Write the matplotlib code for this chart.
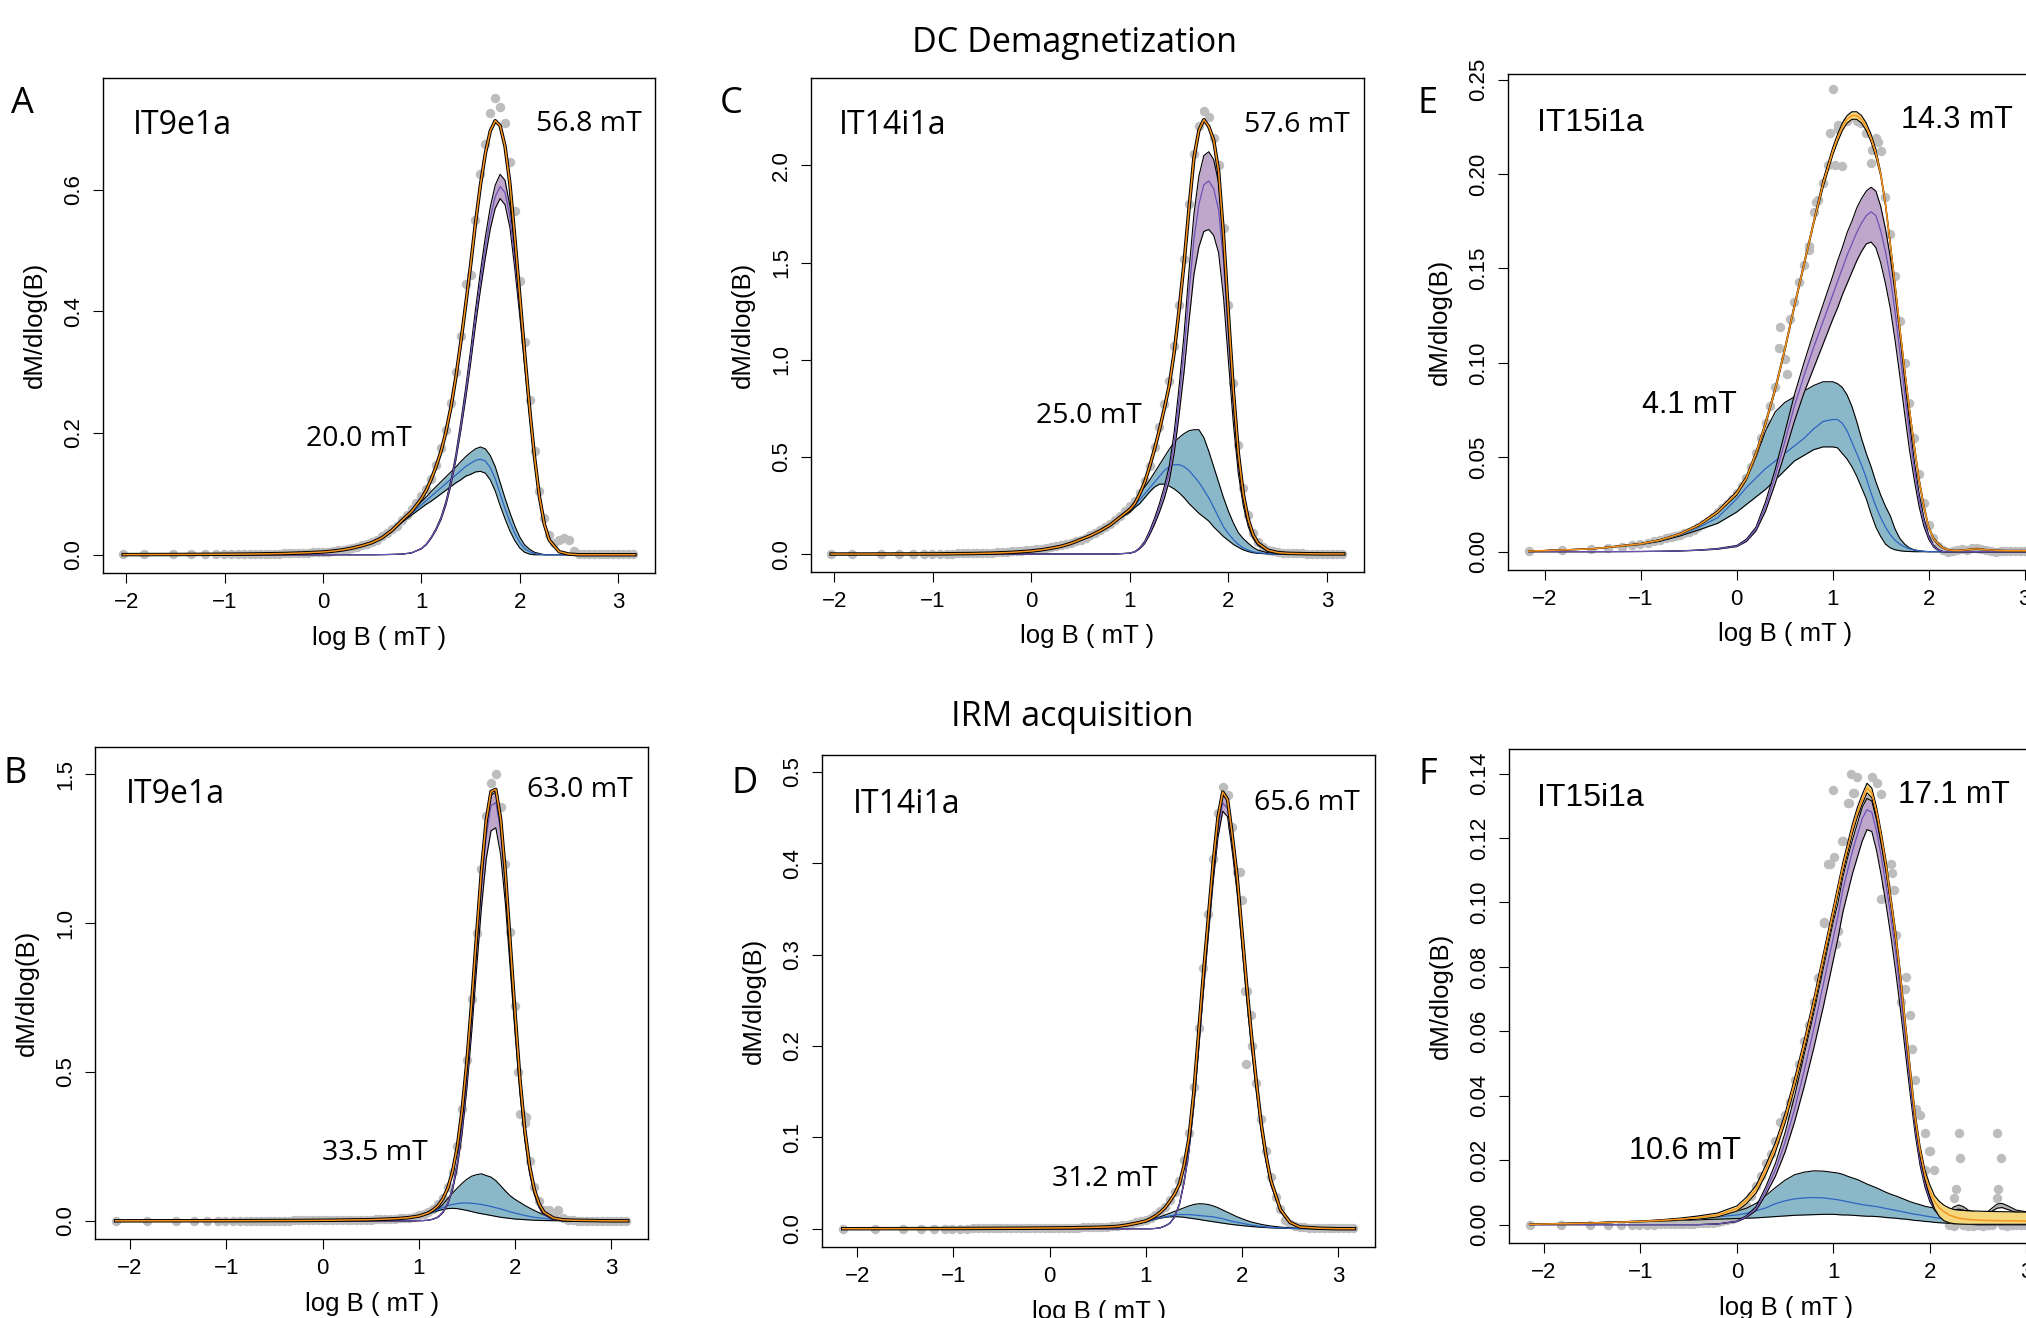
import matplotlib
matplotlib.use("Agg")
import matplotlib.pyplot as plt

plt.rcParams['font.family'] = ['Liberation Sans', 'DejaVu Sans']

# log10 field (mT) where the fitted curves are sampled; first value is set per panel
LOGB_GRID = [-1.5, -1.0, -0.8, -0.6, -0.4, -0.2, 0.0, 0.1, 0.2,
             0.3, 0.4, 0.5, 0.6, 0.7, 0.8, 0.9, 1.0, 1.05, 1.1,
             1.15, 1.2, 1.25, 1.3, 1.35, 1.4, 1.45, 1.5, 1.55, 1.6,
             1.65, 1.7, 1.75, 1.8, 1.85, 1.9, 1.95, 2.0, 2.05, 2.1,
             2.15, 2.2, 2.25, 2.3, 2.4, 2.5, 2.6, 2.8, 3.0, 3.17]

# log10 field of the measured points (after the first one)
DOT_LOGB = [-1.82, -1.52, -1.34, -1.2, -1.09, -1.01, -0.93, -0.86, -0.8, -0.74, -0.69, -0.64, -0.59, -0.55,
            -0.5, -0.45, -0.4, -0.35, -0.3, -0.25, -0.2, -0.15, -0.1, -0.05,
            0.0, 0.05, 0.1, 0.15, 0.2, 0.25, 0.3, 0.35, 0.4, 0.45,
            0.5, 0.55, 0.6, 0.65, 0.7, 0.75, 0.8, 0.85, 0.9, 0.95,
            1.0, 1.05, 1.1, 1.15, 1.2, 1.25, 1.3, 1.35, 1.4, 1.45,
            1.5, 1.55, 1.6, 1.65, 1.7, 1.75, 1.8, 1.85, 1.9, 1.95,
            2.0, 2.05, 2.1, 2.15, 2.2, 2.25, 2.3, 2.35, 2.4, 2.45,
            2.5, 2.55, 2.6, 2.65, 2.7, 2.75, 2.8, 2.85, 2.9, 2.95,
            3.0, 3.05, 3.1, 3.15]

# ---------------- A : DC demagnetization, IT9e1a ----------------
A_x0 = -2.03
A_total = [0.0002, 0.0004, 0.0008, 0.001, 0.0015, 0.002, 0.003, 0.0045, 0.006, 0.008,
           0.011, 0.015, 0.02, 0.028, 0.04, 0.056, 0.071, 0.092, 0.106, 0.124,
           0.145, 0.17, 0.202, 0.242, 0.291, 0.348, 0.41, 0.475, 0.545, 0.607,
           0.659, 0.696, 0.713, 0.705, 0.671, 0.609, 0.52, 0.425, 0.33, 0.24,
           0.16, 0.095, 0.05, 0.024, 0.005, 0.001, 0.0, 0.0, 0.0, 0.0]
A_blue = [0.0002, 0.0004, 0.0008, 0.001, 0.0015, 0.002, 0.003, 0.0045, 0.006, 0.008,
          0.011, 0.015, 0.02, 0.028, 0.0395, 0.055, 0.068, 0.082, 0.089, 0.096,
          0.103, 0.11, 0.117, 0.124, 0.131, 0.138, 0.145, 0.15, 0.155, 0.157,
          0.154, 0.143, 0.125, 0.10, 0.076, 0.054, 0.035, 0.02, 0.01, 0.005,
          0.002, 0.001, 0.0, 0.0, 0.0, 0.0, 0.0, 0.0, 0.0, 0.0]
A_blue_lo = [0.0002, 0.0004, 0.0008, 0.001, 0.0015, 0.002, 0.003, 0.0045, 0.006, 0.008,
             0.011, 0.015, 0.0195, 0.027, 0.038, 0.053, 0.065, 0.077, 0.083, 0.088,
             0.094, 0.10, 0.106, 0.112, 0.118, 0.123, 0.129, 0.132, 0.136, 0.137,
             0.134, 0.123, 0.105, 0.081, 0.059, 0.039, 0.023, 0.011, 0.004, 0.001,
             0.0, 0.0, 0.0, 0.0, 0.0, 0.0, 0.0, 0.0, 0.0, 0.0]
A_blue_hi = [0.0002, 0.0004, 0.0008, 0.001, 0.0015, 0.002, 0.003, 0.0045, 0.006, 0.008,
             0.011, 0.015, 0.0205, 0.029, 0.041, 0.057, 0.071, 0.087, 0.095, 0.104,
             0.112, 0.12, 0.128, 0.136, 0.144, 0.153, 0.161, 0.168, 0.174, 0.177,
             0.174, 0.163, 0.145, 0.119, 0.093, 0.069, 0.047, 0.029, 0.016, 0.009,
             0.004, 0.002, 0.0, 0.0, 0.0, 0.0, 0.0, 0.0, 0.0, 0.0]
A_purple = [0, 0, 0, 0, 0, 0, 0, 0, 0, 0,
            0, 0, 0, 0.0002, 0.0005, 0.001, 0.003, 0.01, 0.017, 0.028,
            0.042, 0.06, 0.085, 0.118, 0.16, 0.21, 0.265, 0.325, 0.39, 0.45,
            0.505, 0.553, 0.588, 0.605, 0.595, 0.555, 0.485, 0.405, 0.32, 0.235,
            0.158, 0.094, 0.05, 0.024, 0.005, 0.001, 0, 0, 0, 0]
A_purple_lo = [0, 0, 0, 0, 0, 0, 0, 0, 0, 0,
               0, 0, 0, 0.0002, 0.0005, 0.001, 0.0029, 0.0097, 0.0164, 0.027,
               0.0406, 0.058, 0.082, 0.114, 0.155, 0.203, 0.256, 0.314, 0.377, 0.435,
               0.488, 0.535, 0.569, 0.585, 0.575, 0.537, 0.469, 0.392, 0.309, 0.227,
               0.153, 0.091, 0.048, 0.023, 0.0048, 0.001, 0, 0, 0, 0]
A_purple_hi = [0, 0, 0, 0, 0, 0, 0, 0, 0, 0,
               0, 0, 0, 0.0002, 0.0005, 0.001, 0.0031, 0.0103, 0.0176, 0.029,
               0.0434, 0.062, 0.088, 0.122, 0.165, 0.217, 0.274, 0.336, 0.403, 0.465,
               0.522, 0.571, 0.607, 0.625, 0.615, 0.573, 0.501, 0.418, 0.331, 0.243,
               0.163, 0.097, 0.052, 0.025, 0.0052, 0.001, 0, 0, 0, 0]
A_dots = [0.001, 0.001, 0.001, 0.001, 0.001, 0.001, 0.001, 0.001, 0.0012, 0.0013, 0.0014, 0.0015, 0.0016, 0.0017, 0.0018,
          0.002, 0.002, 0.0022, 0.0024, 0.0026, 0.0028, 0.003, 0.0034, 0.0038, 0.0042,
          0.0047, 0.0053, 0.006, 0.007, 0.0085, 0.01, 0.0115, 0.013, 0.0155, 0.018,
          0.021, 0.025, 0.03, 0.035, 0.042, 0.048, 0.057, 0.065, 0.075, 0.085,
          0.097, 0.108, 0.125, 0.148, 0.175, 0.205, 0.25, 0.30, 0.36, 0.445,
          0.46, 0.55, 0.625, 0.675, 0.725, 0.75, 0.735, 0.71, 0.645, 0.565,
          0.45, 0.35, 0.255, 0.17, 0.105, 0.06, 0.032, 0.02, 0.025, 0.028,
          0.024, 0.006, 0.002, 0.001, 0.001, 0.001, 0.001, 0.001, 0.001, 0.001,
          0.001, 0.001, 0.001, 0.001]

# ---------------- C : DC demagnetization, IT14i1a ----------------
C_x0 = -2.03
C_total = [0.0003, 0.0005, 0.001, 0.002, 0.003, 0.005, 0.009, 0.016, 0.022, 0.03,
           0.04, 0.055, 0.075, 0.095, 0.12, 0.15, 0.19, 0.23, 0.26, 0.31,
           0.37, 0.45, 0.54, 0.64, 0.75, 0.87, 1.04, 1.26, 1.5, 1.78,
           2.04, 2.18, 2.235, 2.2, 2.13, 1.97, 1.64, 1.23, 0.84, 0.52,
           0.31, 0.18, 0.1, 0.057, 0.02, 0.008, 0.004, 0.002, 0.001, 0.001]
C_blue = [0.0003, 0.0005, 0.001, 0.002, 0.003, 0.005, 0.009, 0.016, 0.022, 0.03,
          0.04, 0.055, 0.075, 0.095, 0.12, 0.15, 0.188, 0.225, 0.25, 0.28,
          0.31, 0.34, 0.37, 0.40, 0.43, 0.45, 0.46, 0.46, 0.45, 0.43,
          0.40, 0.37, 0.33, 0.29, 0.24, 0.19, 0.14, 0.105, 0.075, 0.05,
          0.032, 0.02, 0.012, 0.007, 0.002, 0.0, 0.0, 0.0, 0.0, 0.0]
C_blue_lo = [0.0003, 0.0005, 0.001, 0.002, 0.003, 0.005, 0.009, 0.016, 0.022, 0.03,
             0.04, 0.055, 0.075, 0.094, 0.118, 0.147, 0.185, 0.215, 0.24, 0.26,
             0.29, 0.32, 0.345, 0.36, 0.36, 0.35, 0.335, 0.315, 0.29, 0.26,
             0.235, 0.21, 0.19, 0.17, 0.14, 0.115, 0.09, 0.07, 0.05, 0.035,
             0.022, 0.013, 0.007, 0.004, 0.001, 0.0, 0.0, 0.0, 0.0, 0.0]
C_blue_hi = [0.0003, 0.0005, 0.001, 0.002, 0.003, 0.005, 0.009, 0.016, 0.022, 0.03,
             0.04, 0.055, 0.075, 0.096, 0.122, 0.153, 0.195, 0.235, 0.27, 0.31,
             0.345, 0.38, 0.42, 0.46, 0.50, 0.54, 0.575, 0.60, 0.62, 0.635,
             0.64, 0.64, 0.6, 0.53, 0.45, 0.37, 0.29, 0.22, 0.16, 0.11,
             0.08, 0.056, 0.035, 0.02, 0.007, 0.002, 0.0, 0.0, 0.0, 0.0]
C_purple = [0, 0, 0, 0, 0, 0, 0, 0, 0, 0,
            0, 0, 0, 0, 0, 0, 0.002, 0.005, 0.012, 0.03,
            0.06, 0.11, 0.17, 0.24, 0.32, 0.42, 0.58, 0.8, 1.05, 1.35,
            1.62, 1.8, 1.9, 1.92, 1.88, 1.77, 1.5, 1.12, 0.76, 0.47,
            0.28, 0.16, 0.09, 0.05, 0.016, 0.005, 0.002, 0, 0, 0]
C_purple_lo = [0, 0, 0, 0, 0, 0, 0, 0, 0, 0,
               0, 0, 0, 0, 0, 0, 0.0018, 0.0045, 0.011, 0.027,
               0.054, 0.099, 0.153, 0.216, 0.288, 0.378, 0.52, 0.72, 0.94, 1.2,
               1.44, 1.58, 1.66, 1.67, 1.64, 1.55, 1.32, 0.99, 0.67, 0.415,
               0.25, 0.142, 0.08, 0.045, 0.014, 0.0045, 0.0018, 0, 0, 0]
C_purple_hi = [0, 0, 0, 0, 0, 0, 0, 0, 0, 0,
               0, 0, 0, 0, 0, 0, 0.0022, 0.0055, 0.013, 0.033,
               0.066, 0.12, 0.185, 0.26, 0.35, 0.455, 0.63, 0.865, 1.135, 1.46,
               1.75, 1.945, 2.05, 2.07, 2.03, 1.91, 1.62, 1.21, 0.82, 0.51,
               0.3, 0.173, 0.097, 0.054, 0.017, 0.0054, 0.0022, 0, 0, 0]
C_dots = [0.001, 0.001, 0.001, 0.0015, 0.0018, 0.002, 0.002, 0.0025, 0.0028, 0.003, 0.0033, 0.0036, 0.004, 0.0045, 0.005,
          0.006, 0.007, 0.008, 0.009, 0.01, 0.012, 0.014, 0.016, 0.018, 0.02,
          0.022, 0.025, 0.028, 0.032, 0.036, 0.041, 0.046, 0.052, 0.058, 0.066,
          0.075, 0.085, 0.097, 0.108, 0.122, 0.137, 0.155, 0.175, 0.198, 0.22,
          0.245, 0.275, 0.315, 0.375, 0.455, 0.55, 0.655, 0.77, 0.89, 1.07,
          1.28, 1.52, 1.8, 2.06, 2.2, 2.28, 2.25, 2.14, 2.0, 1.68,
          1.28, 0.88, 0.56, 0.34, 0.2, 0.11, 0.06, 0.035, 0.022, 0.015,
          0.01, 0.008, 0.006, 0.005, 0.004, 0.004, 0.003, 0.003, 0.003, 0.003,
          0.003, 0.003, 0.003, 0.003]

# ---------------- E : DC demagnetization, IT15i1a ----------------
E_x0 = -2.17
E_total = [0.0003, 0.0015, 0.0042, 0.0062, 0.0093, 0.014, 0.021, 0.031, 0.039, 0.052,
           0.068, 0.086, 0.107, 0.13, 0.152, 0.174, 0.195, 0.212, 0.219, 0.225,
           0.229, 0.231, 0.231, 0.229, 0.225, 0.219, 0.211, 0.2, 0.184, 0.163,
           0.141, 0.118, 0.096, 0.075, 0.056, 0.038, 0.024, 0.013, 0.007, 0.004,
           0.002, 0.001, 0.0007, 0.0006, 0.001, 0.0015, 0.001, 0.0005, 0.0005, 0.0005]
E_total_lo = [0.0003, 0.0014, 0.004, 0.006, 0.009, 0.0135, 0.0203, 0.030, 0.038, 0.051,
              0.067, 0.085, 0.106, 0.129, 0.151, 0.173, 0.193, 0.21, 0.217, 0.223,
              0.227, 0.229, 0.229, 0.227, 0.223, 0.217, 0.209, 0.199, 0.183, 0.162,
              0.14, 0.117, 0.095, 0.074, 0.055, 0.037, 0.023, 0.0125, 0.0065, 0.0035,
              0.0017, 0.0008, 0.0005, 0.0004, 0.0008, 0.0012, 0.0008, 0.0003, 0.0003, 0.0003]
E_total_hi = [0.0003, 0.0016, 0.0044, 0.0064, 0.0096, 0.0145, 0.0217, 0.032, 0.040, 0.053,
              0.069, 0.087, 0.108, 0.131, 0.153, 0.175, 0.197, 0.214, 0.221, 0.227,
              0.231, 0.233, 0.233, 0.231, 0.227, 0.221, 0.213, 0.201, 0.185, 0.164,
              0.142, 0.119, 0.097, 0.076, 0.057, 0.039, 0.025, 0.0135, 0.0075, 0.0045,
              0.0023, 0.0012, 0.0009, 0.0008, 0.0012, 0.0018, 0.0012, 0.0007, 0.0007, 0.0007]
E_blue = [0.0003, 0.0015, 0.0041, 0.006, 0.0088, 0.0128, 0.018, 0.028, 0.034, 0.039,
          0.044, 0.048, 0.052, 0.056, 0.06, 0.065, 0.069, 0.07, 0.07, 0.068,
          0.064, 0.058, 0.052, 0.046, 0.039, 0.031, 0.024, 0.018, 0.013, 0.009,
          0.006, 0.004, 0.0025, 0.0015, 0.0008, 0.0004, 0.0002, 0.0, 0.0, 0.0,
          0, 0, 0, 0, 0, 0, 0, 0, 0, 0]
E_blue_lo = [0.0003, 0.0014, 0.0038, 0.0055, 0.0082, 0.0115, 0.015, 0.021, 0.025, 0.029,
             0.033, 0.038, 0.043, 0.048, 0.051, 0.054, 0.0555, 0.0555, 0.055, 0.052,
             0.049, 0.045, 0.04, 0.034, 0.028, 0.02, 0.013, 0.008, 0.004, 0.002,
             0.001, 0.0005, 0.0002, 0.0001, 0, 0, 0, 0, 0, 0,
             0, 0, 0, 0, 0, 0, 0, 0, 0, 0]
E_blue_hi = [0.0003, 0.0016, 0.0043, 0.0064, 0.0093, 0.0138, 0.0205, 0.03, 0.038, 0.05,
             0.064, 0.074, 0.079, 0.082, 0.085, 0.088, 0.09, 0.09, 0.089, 0.087,
             0.083, 0.077, 0.069, 0.06, 0.052, 0.045, 0.037, 0.03, 0.024, 0.019,
             0.012, 0.007, 0.004, 0.002, 0.001, 0.0005, 0.0002, 0, 0, 0,
             0, 0, 0, 0, 0, 0, 0, 0, 0, 0]
E_purple = [0, 0, 0.0001, 0.0002, 0.0004, 0.0008, 0.0015, 0.003, 0.006, 0.012,
            0.024, 0.04, 0.058, 0.077, 0.093, 0.108, 0.122, 0.136, 0.143, 0.15,
            0.157, 0.163, 0.169, 0.174, 0.178, 0.18, 0.178, 0.17, 0.159, 0.145,
            0.127, 0.106, 0.084, 0.063, 0.044, 0.028, 0.016, 0.008, 0.003, 0.001,
            0, 0, 0, 0, 0, 0, 0, 0, 0, 0]
E_purple_lo = [0, 0, 0.0001, 0.0002, 0.0004, 0.0007, 0.0013, 0.0027, 0.0054, 0.011,
               0.0215, 0.036, 0.052, 0.069, 0.084, 0.097, 0.11, 0.123, 0.129, 0.136,
               0.142, 0.148, 0.154, 0.159, 0.163, 0.164, 0.161, 0.153, 0.142, 0.129,
               0.112, 0.093, 0.073, 0.054, 0.038, 0.024, 0.0135, 0.0067, 0.0025, 0.0008,
               0, 0, 0, 0, 0, 0, 0, 0, 0, 0]
E_purple_hi = [0, 0, 0.0001, 0.0002, 0.0004, 0.0009, 0.0017, 0.0033, 0.0066, 0.013,
               0.0265, 0.0435, 0.063, 0.083, 0.1, 0.116, 0.131, 0.146, 0.154, 0.161,
               0.169, 0.175, 0.182, 0.187, 0.191, 0.193, 0.191, 0.183, 0.171, 0.156,
               0.137, 0.115, 0.091, 0.069, 0.048, 0.031, 0.018, 0.009, 0.0035, 0.0012,
               0, 0, 0, 0, 0, 0, 0, 0, 0, 0]
E_dots = [0.0003, 0.0008, 0.0015, 0.002, 0.0026, 0.0033, 0.004, 0.0048, 0.0055, 0.0062, 0.007, 0.0077, 0.0085, 0.009, 0.0097,
          0.0105, 0.0115, 0.013, 0.0145, 0.016, 0.0185, 0.021, 0.023, 0.025, 0.028,
          0.031, 0.035, 0.039, 0.045, 0.052, 0.06, 0.068, 0.077, 0.087, 0.119,
          0.102, 0.123, 0.132, 0.143, 0.152, 0.162, 0.18, 0.186, 0.195, 0.205,
          0.245, 0.224, 0.204, 0.228, 0.231, 0.228, 0.227, 0.222, 0.206, 0.219,
          0.212, 0.188, 0.168, 0.146, 0.122, 0.1, 0.079, 0.06, 0.041, 0.026,
          0.014, 0.007, 0.003, 0.001, 0.0, 0.0005, 0.001, 0.0015, 0.001, 0.002,
          0.002, 0.0015, 0.001, 0.0005, 0.0, 0.0005, 0.0005, 0.0005, 0.0005, 0.0005,
          0.0005, 0.0005, 0.0005, 0.0005]
E_extra_x = [0.44, 0.52, 0.97, 1.02, 1.06, 1.41, 1.47, 0.83, 0.75]
E_extra_y = [0.108, 0.094, 0.222, 0.205, 0.226, 0.213, 0.217, 0.185, 0.16]

# ---------------- B : IRM acquisition, IT9e1a ----------------
B_x0 = -2.15
B_total = [0.0, 0.0003, 0.0005, 0.0006, 0.0008, 0.001, 0.0013, 0.0018, 0.002, 0.0025,
           0.003, 0.0035, 0.004, 0.005, 0.0065, 0.008, 0.011, 0.016, 0.021, 0.027,
           0.037, 0.051, 0.074, 0.109, 0.164, 0.249, 0.372, 0.536, 0.737, 0.958,
           1.172, 1.344, 1.442, 1.449, 1.35, 1.165, 0.93, 0.696, 0.478, 0.308,
           0.186, 0.105, 0.057, 0.029, 0.009, 0.0035, 0.002, 0.001, 0.0, 0.0]
B_blue = [0.0, 0.0003, 0.0005, 0.0006, 0.0008, 0.001, 0.0013, 0.0018, 0.002, 0.0025,
          0.003, 0.0035, 0.004, 0.005, 0.0065, 0.008, 0.011, 0.016, 0.02, 0.025,
          0.031, 0.038, 0.045, 0.051, 0.055, 0.058, 0.06, 0.06, 0.059, 0.057,
          0.055, 0.052, 0.048, 0.044, 0.04, 0.035, 0.03, 0.026, 0.022, 0.018,
          0.015, 0.012, 0.01, 0.008, 0.005, 0.003, 0.002, 0.001, 0.0, 0.0]
B_blue_lo = [0.0, 0.0003, 0.0005, 0.0006, 0.0008, 0.001, 0.0013, 0.0018, 0.002, 0.0025,
             0.003, 0.0035, 0.004, 0.005, 0.0062, 0.007, 0.01, 0.015, 0.019, 0.024,
             0.029, 0.034, 0.038, 0.041, 0.042, 0.041, 0.038, 0.035, 0.031, 0.027,
             0.024, 0.021, 0.018, 0.015, 0.012, 0.01, 0.008, 0.006, 0.005, 0.004,
             0.003, 0.002, 0.0015, 0.001, 0.0005, 0.0, 0.0, 0.0, 0.0, 0.0]
B_blue_hi = [0.0, 0.0003, 0.0005, 0.0006, 0.0008, 0.001, 0.0013, 0.0018, 0.002, 0.0025,
             0.003, 0.0035, 0.004, 0.005, 0.0068, 0.009, 0.012, 0.017, 0.021, 0.026,
             0.032, 0.04, 0.055, 0.075, 0.093, 0.11, 0.126, 0.14, 0.15, 0.155,
             0.158, 0.152, 0.147, 0.135, 0.118, 0.10, 0.084, 0.072, 0.062, 0.052,
             0.043, 0.035, 0.027, 0.02, 0.009, 0.004, 0.002, 0.001, 0.0, 0.0]
B_purple = [0, 0, 0, 0, 0, 0, 0, 0, 0, 0,
            0, 0, 0, 0, 0, 0, 0, 0.0005, 0.001, 0.002,
            0.006, 0.013, 0.029, 0.058, 0.109, 0.191, 0.312, 0.476, 0.678, 0.901,
            1.117, 1.292, 1.394, 1.405, 1.31, 1.13, 0.90, 0.67, 0.456, 0.29,
            0.171, 0.093, 0.047, 0.021, 0.004, 0.0005, 0, 0, 0, 0]
B_purple_lo = [0, 0, 0, 0, 0, 0, 0, 0, 0, 0,
               0, 0, 0, 0, 0, 0, 0, 0.0005, 0.001, 0.0019,
               0.0056, 0.012, 0.027, 0.055, 0.102, 0.18, 0.293, 0.447, 0.637, 0.847,
               1.05, 1.215, 1.31, 1.32, 1.23, 1.062, 0.846, 0.63, 0.429, 0.273,
               0.161, 0.087, 0.044, 0.02, 0.0038, 0.0005, 0, 0, 0, 0]
B_purple_hi = [0, 0, 0, 0, 0, 0, 0, 0, 0, 0,
               0, 0, 0, 0, 0, 0, 0, 0.0005, 0.001, 0.0021,
               0.0062, 0.0133, 0.0297, 0.059, 0.112, 0.196, 0.32, 0.488, 0.695, 0.924,
               1.145, 1.324, 1.429, 1.44, 1.343, 1.158, 0.923, 0.687, 0.467, 0.297,
               0.175, 0.095, 0.048, 0.0215, 0.0041, 0.0005, 0, 0, 0, 0]
B_dots = [0.0, 0.0, 0.0003, 0.0003, 0.0004, 0.0004, 0.0005, 0.0005, 0.0006, 0.0006, 0.0007, 0.0007, 0.0008, 0.0008, 0.0009,
          0.001, 0.001, 0.001, 0.0011, 0.0012, 0.0013, 0.0013, 0.0014, 0.0016, 0.0017,
          0.0018, 0.0019, 0.002, 0.0023, 0.0025, 0.0028, 0.003, 0.0033, 0.0035, 0.0038,
          0.004, 0.0045, 0.005, 0.0057, 0.0065, 0.0072, 0.008, 0.009, 0.011, 0.013,
          0.018, 0.024, 0.03, 0.04, 0.055, 0.078, 0.112, 0.165, 0.25, 0.375,
          0.54, 0.745, 0.965, 1.18, 1.36, 1.47, 1.5, 1.39, 1.2, 0.97,
          0.72, 0.36, 0.33, 0.2, 0.115, 0.065, 0.035, 0.035, 0.02, 0.035,
          0.008, 0.003, 0.002, 0.001, 0.001, 0.001, 0.001, 0.001, 0.001, 0.001,
          0.001, 0.001, 0.001, 0.001]
B_extra_x = [2.07, 2.11, 2.03]
B_extra_y = [0.36, 0.35, 0.5]

# ---------------- D : IRM acquisition, IT14i1a ----------------
D_x0 = -2.15
D_total = [0.0, 0.0001, 0.0002, 0.0003, 0.0004, 0.0005, 0.0006, 0.0008, 0.0009, 0.001,
           0.0012, 0.0014, 0.0016, 0.002, 0.0025, 0.004, 0.006, 0.0085, 0.011, 0.014,
           0.018, 0.023, 0.03, 0.038, 0.049, 0.07, 0.10, 0.15, 0.215, 0.28,
           0.34, 0.40, 0.45, 0.478, 0.47, 0.43, 0.385, 0.325, 0.265, 0.21,
           0.16, 0.115, 0.08, 0.053, 0.021, 0.007, 0.002, 0.0005, 0.0, 0.0]
D_blue = [0.0, 0.0001, 0.0002, 0.0003, 0.0004, 0.0005, 0.0006, 0.0008, 0.0009, 0.001,
          0.0012, 0.0014, 0.0016, 0.002, 0.003, 0.004, 0.006, 0.008, 0.009, 0.011,
          0.012, 0.013, 0.014, 0.015, 0.0155, 0.0155, 0.0155, 0.015, 0.0145, 0.014,
          0.0135, 0.013, 0.012, 0.011, 0.0095, 0.008, 0.007, 0.006, 0.005, 0.004,
          0.0033, 0.0026, 0.002, 0.0015, 0.001, 0.0005, 0.0002, 0.0, 0.0, 0.0]
D_blue_lo = [0.0, 0.0001, 0.0002, 0.0003, 0.0004, 0.0005, 0.0006, 0.0008, 0.0009, 0.001,
             0.0012, 0.0014, 0.0016, 0.002, 0.0029, 0.0038, 0.0055, 0.0075, 0.009, 0.0105,
             0.0115, 0.0125, 0.013, 0.0132, 0.013, 0.0125, 0.0117, 0.011, 0.0102, 0.0093,
             0.0085, 0.0077, 0.0069, 0.0061, 0.0053, 0.0046, 0.004, 0.0034, 0.0029, 0.0024,
             0.002, 0.0016, 0.0013, 0.001, 0.0006, 0.0003, 0.0001, 0, 0, 0]
D_blue_hi = [0.0, 0.0001, 0.0002, 0.0003, 0.0004, 0.0005, 0.0006, 0.0008, 0.0009, 0.001,
             0.0012, 0.0014, 0.0016, 0.002, 0.0031, 0.004, 0.006, 0.0085, 0.01, 0.0115,
             0.013, 0.015, 0.017, 0.019, 0.021, 0.023, 0.025, 0.0265, 0.0274, 0.0272,
             0.0265, 0.025, 0.023, 0.0205, 0.018, 0.0155, 0.013, 0.011, 0.009, 0.0073,
             0.006, 0.0048, 0.0038, 0.003, 0.0018, 0.001, 0.0005, 0.0001, 0, 0]
D_purple = [0, 0, 0, 0, 0, 0, 0, 0, 0, 0,
            0, 0, 0, 0, 0, 0, 0, 0, 0, 0.0003,
            0.001, 0.003, 0.006, 0.013, 0.027, 0.052, 0.087, 0.137, 0.2, 0.265,
            0.327, 0.387, 0.437, 0.466, 0.46, 0.42, 0.374, 0.315, 0.255, 0.201,
            0.153, 0.109, 0.075, 0.049, 0.019, 0.006, 0.0015, 0, 0, 0]
D_purple_lo = [0, 0, 0, 0, 0, 0, 0, 0, 0, 0,
               0, 0, 0, 0, 0, 0, 0, 0, 0, 0.0003,
               0.001, 0.0029, 0.0059, 0.0127, 0.0265, 0.051, 0.085, 0.134, 0.196, 0.26,
               0.32, 0.379, 0.428, 0.457, 0.451, 0.412, 0.367, 0.309, 0.25, 0.197,
               0.15, 0.107, 0.0735, 0.048, 0.0186, 0.0059, 0.0015, 0, 0, 0]
D_purple_hi = [0, 0, 0, 0, 0, 0, 0, 0, 0, 0,
               0, 0, 0, 0, 0, 0, 0, 0, 0, 0.0003,
               0.001, 0.0031, 0.0061, 0.0133, 0.0275, 0.053, 0.089, 0.14, 0.204, 0.27,
               0.334, 0.395, 0.446, 0.475, 0.469, 0.428, 0.381, 0.321, 0.26, 0.205,
               0.156, 0.111, 0.0765, 0.05, 0.0194, 0.0061, 0.0015, 0, 0, 0]
D_dots = [0.0, 0.0, 0.0, 0.0001, 0.0001, 0.0001, 0.0002, 0.0002, 0.0002, 0.0003, 0.0003, 0.0003, 0.0004, 0.0004, 0.0004,
          0.0005, 0.0005, 0.0005, 0.0006, 0.0006, 0.0006, 0.0007, 0.0007, 0.0008, 0.0008,
          0.0009, 0.0009, 0.001, 0.001, 0.0011, 0.0012, 0.0013, 0.0014, 0.0015, 0.0016,
          0.0018, 0.002, 0.0023, 0.0027, 0.0032, 0.0038, 0.0045, 0.0055, 0.007, 0.0085,
          0.0095, 0.012, 0.015, 0.019, 0.024, 0.031, 0.04, 0.052, 0.075, 0.105,
          0.155, 0.22, 0.285, 0.345, 0.405, 0.455, 0.483, 0.475, 0.44, 0.39,
          0.36, 0.26, 0.20, 0.16, 0.12, 0.085, 0.057, 0.035, 0.022, 0.01,
          0.005, 0.003, 0.002, 0.0015, 0.001, 0.001, 0.001, 0.001, 0.001, 0.001,
          0.001, 0.001, 0.001, 0.001]
D_extra_x = [1.98, 2.03, 2.04, 2.09]
D_extra_y = [0.39, 0.26, 0.18, 0.234]

# ---------------- F : IRM acquisition, IT15i1a ----------------
F_x0 = -2.15
F_total = [0.0001, 0.0005, 0.001, 0.0013, 0.0017, 0.0022, 0.003, 0.005, 0.0075, 0.011,
           0.017, 0.024, 0.033, 0.044, 0.056, 0.069, 0.083, 0.097, 0.104, 0.111,
           0.117, 0.123, 0.128, 0.132, 0.1355, 0.134, 0.128, 0.12, 0.111, 0.10,
           0.089, 0.076, 0.061, 0.047, 0.033, 0.023, 0.0155, 0.0105, 0.0072, 0.0052,
           0.004, 0.003, 0.0025, 0.002, 0.0016, 0.0014, 0.0013, 0.0012, 0.0011, 0.0011]
F_total_lo = [0.0, 0.0004, 0.0009, 0.0011, 0.0014, 0.0017, 0.0024, 0.0042, 0.0065, 0.0098,
              0.0155, 0.0225, 0.0315, 0.0425, 0.0545, 0.0675, 0.0815, 0.0955, 0.1025, 0.1095,
              0.1155, 0.1215, 0.1265, 0.1305, 0.134, 0.1325, 0.1265, 0.1185, 0.1095, 0.0985,
              0.0875, 0.0745, 0.0595, 0.0455, 0.0315, 0.0215, 0.014, 0.009, 0.005, 0.0025,
              0.0012, 0.0006, 0.0003, 0.0002, 0.0001, 0.0001, 0.0001, 0.0001, 0.0001, 0.0001]
F_total_hi = [0.0002, 0.0006, 0.0011, 0.0015, 0.002, 0.0027, 0.0036, 0.0058, 0.0085, 0.0122,
              0.0185, 0.0255, 0.0345, 0.0455, 0.0575, 0.0705, 0.0845, 0.0985, 0.1055, 0.1125,
              0.1185, 0.1245, 0.1295, 0.1335, 0.137, 0.1355, 0.1295, 0.1215, 0.1125, 0.1015,
              0.0905, 0.0775, 0.0625, 0.0485, 0.0345, 0.0245, 0.017, 0.0125, 0.009, 0.0072,
              0.006, 0.0052, 0.0047, 0.0045, 0.0043, 0.0042, 0.0041, 0.004, 0.0039, 0.0038]
F_blue = [0.0001, 0.0005, 0.001, 0.0012, 0.0015, 0.0019, 0.0024, 0.003, 0.0035, 0.0043,
          0.0052, 0.0065, 0.0074, 0.008, 0.0083, 0.0084, 0.0083, 0.0079, 0.0077, 0.0074,
          0.0071, 0.0068, 0.0065, 0.0062, 0.006, 0.0058, 0.0056, 0.0053, 0.005, 0.0047,
          0.0044, 0.0041, 0.0038, 0.0035, 0.0032, 0.003, 0.0027, 0.0025, 0.0022, 0.002,
          0.0018, 0.0016, 0.0014, 0.0012, 0.001, 0.0008, 0.0007, 0.0005, 0.0004, 0.0003]
F_blue_lo = [0.0001, 0.0005, 0.0009, 0.0011, 0.0013, 0.0015, 0.0017, 0.0019, 0.002, 0.0021,
             0.0023, 0.0025, 0.0027, 0.0029, 0.003, 0.0031, 0.0032, 0.0032, 0.0031, 0.003,
             0.003, 0.0029, 0.0028, 0.0027, 0.0026, 0.0026, 0.0025, 0.0024, 0.0022, 0.0021,
             0.002, 0.0018, 0.0017, 0.0015, 0.0013, 0.0012, 0.001, 0.0009, 0.0007, 0.0006,
             0.0005, 0.0004, 0.0003, 0.0003, 0.0002, 0.0001, 0.0001, 0.0001, 0.0001, 0.0001]
F_blue_hi = [0.0001, 0.0006, 0.0011, 0.0014, 0.0018, 0.0023, 0.003, 0.0042, 0.0051, 0.0066,
             0.009, 0.0115, 0.0138, 0.0155, 0.0163, 0.0167, 0.0166, 0.0162, 0.016, 0.0156,
             0.015, 0.0145, 0.014, 0.0133, 0.0126, 0.012, 0.0114, 0.0107, 0.01, 0.0094,
             0.0089, 0.0083, 0.0077, 0.0071, 0.0066, 0.0062, 0.0057, 0.0054, 0.0051, 0.0048,
             0.0045, 0.0042, 0.004, 0.0038, 0.0034, 0.003, 0.0027, 0.0022, 0.0018, 0.0015]
F_purple = [0, 0, 0, 0, 0, 0, 0.0002, 0.001, 0.0025, 0.005,
            0.0105, 0.017, 0.0255, 0.036, 0.048, 0.061, 0.075, 0.089, 0.096, 0.104,
            0.11, 0.116, 0.121, 0.126, 0.1288, 0.128, 0.122, 0.114, 0.105, 0.095,
            0.084, 0.071, 0.057, 0.043, 0.030, 0.02, 0.0128, 0.008, 0.005, 0.0032,
            0.002, 0.0012, 0.0007, 0.0004, 0.0001, 0, 0, 0, 0, 0]
F_purple_lo = [0, 0, 0, 0, 0, 0, 0.0002, 0.0009, 0.0022, 0.0044,
               0.0093, 0.015, 0.0225, 0.032, 0.043, 0.055, 0.068, 0.082, 0.089, 0.097,
               0.103, 0.109, 0.114, 0.119, 0.1226, 0.122, 0.116, 0.108, 0.099, 0.089,
               0.078, 0.066, 0.053, 0.04, 0.028, 0.0185, 0.0118, 0.0073, 0.0045, 0.0029,
               0.0018, 0.0011, 0.0006, 0.0004, 0.0001, 0, 0, 0, 0, 0]
F_purple_hi = [0, 0, 0, 0, 0, 0, 0.0002, 0.0011, 0.0028, 0.0056,
               0.0117, 0.019, 0.0285, 0.04, 0.053, 0.066, 0.08, 0.094, 0.1, 0.108,
               0.114, 0.1195, 0.1245, 0.1295, 0.1323, 0.1315, 0.1255, 0.1175, 0.109, 0.099,
               0.088, 0.075, 0.061, 0.046, 0.032, 0.0215, 0.0138, 0.0087, 0.0055, 0.0035,
               0.0022, 0.0013, 0.0008, 0.0004, 0.0001, 0, 0, 0, 0, 0]
F_gray_x = [2.15, 2.2, 2.25, 2.3, 2.35, 2.4, 2.5, 2.6, 2.65, 2.7, 2.75, 2.8, 2.9, 3.0, 3.1, 3.17]
F_gray_lo = [0.0033, 0.0036, 0.0044, 0.0048, 0.0045, 0.0038, 0.003, 0.0033, 0.0042, 0.0051,
             0.0053, 0.0048, 0.0037, 0.0033, 0.0039, 0.0044]
F_gray_hi = [0.0035, 0.0042, 0.0055, 0.0061, 0.0056, 0.0045, 0.0036, 0.004, 0.0052, 0.0064,
             0.0066, 0.006, 0.0045, 0.004, 0.0048, 0.0055]
F_dots = [0.0, 0.0, 0.0, 0.0, 0.0, 0.0, 0.0, 0.0, 0.0, 0.0001, 0.0001, 0.0001, 0.0002, 0.0002, 0.0002,
          0.0003, 0.0003, 0.0004, 0.0004, 0.0005, 0.0006, 0.0008, 0.001, 0.0013, 0.0018,
          0.003, 0.004, 0.006, 0.009, 0.012, 0.015, 0.019, 0.022, 0.026, 0.032,
          0.034, 0.038, 0.045, 0.05, 0.057, 0.062, 0.069, 0.077, 0.094, 0.112,
          0.135, 0.091, 0.119, 0.131, 0.134, 0.139, 0.128, 0.132, 0.139, 0.137,
          0.1336, 0.105, 0.112, 0.09, 0.069, 0.077, 0.065, 0.045, 0.034, 0.0285,
          0.0227, 0.017, 0.005, 0.002, 0.0, -0.0003, 0.0285, 0.0, -0.0003, -0.0003,
          0.0, -0.0003, 0.0, 0.0, 0.0285, 0.0, -0.0003, 0.0, 0.0, 0.0,
          0.0, 0.0, 0.0, 0.0]
F_extra_x = [2.27, 2.25, 2.31, 2.71, 2.70, 2.74, 1.03, 1.09, 1.18, 1.22, 1.16, 1.5, 1.61, 1.63,
             1.74, 1.82, 1.86, 1.99, 1.95, 0.84, 0.75, 0.9, 0.97, 1.01]
F_extra_y = [0.011, 0.0084, 0.0208, 0.011, 0.0084, 0.0208, 0.087, 0.119, 0.1399, 0.134, 0.131, 0.101,
             0.109, 0.104, 0.073, 0.0545, 0.036, 0.0227, 0.017, 0.0766, 0.062, 0.0937, 0.112, 0.114]

# ---------------- styling ----------------
BLUE_FILL = '#8BB8C8'
BLUE_LINE = '#2E64C2'
PURPLE_FILL = '#BFA7CB'
PURPLE_LINE = '#6B52B6'
YELLOW_FILL = '#F5D77E'
ORANGE = '#F7941D'
DOT_GRAY = '#BDBDBD'
MYRIAD = ['Open Sans', 'DejaVu Sans']
HELV = ['Liberation Sans', 'DejaVu Sans']
DOT_MS = 6.8

W, H = 2026, 1318
fig = plt.figure(figsize=(W / 100, H / 100), dpi=100)


def add_axes_px(left, top, width, height):
    return fig.add_axes([left / W, 1 - (top + height) / H, width / W, height / H])


def text_px(x, y, s, **kw):
    fig.text(x / W, 1 - y / H, s, **kw)


def band(ax, xs, lo, mid, hi, fill, line, z):
    ax.fill_between(xs, lo, hi, color=fill, lw=0, zorder=z)
    ax.plot(xs, lo, color='black', lw=0.8, zorder=z + 0.1)
    ax.plot(xs, hi, color='black', lw=0.8, zorder=z + 0.1)
    ax.plot(xs, mid, color=line, lw=0.9, zorder=z + 0.2)


def draw_panel(ax, box, x0, dots, blue, purple, total, xlim, ylim, yticks, ylabels,
               total_band=None, extra=None, gray=None):
    w_px, h_px = box[2], box[3]
    xs = [x0] + LOGB_GRID
    ax.plot([x0] + DOT_LOGB, dots, 'o', ms=DOT_MS, color=DOT_GRAY, mec='none', zorder=1)
    if extra is not None:
        ax.plot(extra[0], extra[1], 'o', ms=DOT_MS, color=DOT_GRAY, mec='none', zorder=1)
    band(ax, xs, blue[0], blue[1], blue[2], BLUE_FILL, BLUE_LINE, 2)
    band(ax, xs, purple[0], purple[1], purple[2], PURPLE_FILL, PURPLE_LINE, 3)
    if gray is not None:
        ax.fill_between(gray[0], gray[1], gray[2], color='#AFAFAF', lw=0, zorder=3.5)
        ax.plot(gray[0], gray[1], color='black', lw=0.8, zorder=3.6)
        ax.plot(gray[0], gray[2], color='black', lw=0.8, zorder=3.6)
    if total_band is not None:
        ax.fill_between(xs, total_band[0], total_band[1], color=YELLOW_FILL, lw=0, zorder=4)
        ax.plot(xs, total_band[0], color='black', lw=0.8, zorder=4.1)
        ax.plot(xs, total_band[1], color='black', lw=0.8, zorder=4.1)
        ax.plot(xs, total, color=ORANGE, lw=1.1, zorder=4.2)
    else:
        ax.plot(xs, total, color='black', lw=2.5, zorder=4)
        ax.plot(xs, total, color=ORANGE, lw=1.1, zorder=4.1)

    ax.set_xlim(*xlim)
    ax.set_ylim(*ylim)
    ax.set_xticks([-2, -1, 0, 1, 2, 3])
    ax.set_xticklabels(['\u22122', '\u22121', '0', '1', '2', '3'])
    ax.set_yticks(yticks)
    ax.set_yticklabels(ylabels, rotation=90, va='center')
    ax.tick_params(direction='out', length=7, width=0.8, labelsize=16, pad=6.5)
    for s in ax.spines.values():
        s.set_linewidth(1.0)
    ax.set_xlabel('log B ( mT )', fontsize=18.5)
    ax.xaxis.set_label_coords(0.5, -64.5 / h_px)
    ax.xaxis.label.set_va('center')
    ax.set_ylabel('dM/dlog(B)', fontsize=18.5)
    ax.yaxis.set_label_coords(-68 / w_px, 0.5)
    ax.yaxis.label.set_va('center')


XL_AC = (-2.238, 3.378)
XL_E = (-2.384, 3.384)
XL_BDF = (-2.363, 3.383)

boxA = (102.7, 77.5, 552.7, 495.5)
boxC = (810.7, 77.5, 553.6, 494.5)
boxE = (1508.1, 73.6, 553.3, 496.4)
boxB = (95.1, 746.8, 553.1, 492.2)
boxD = (822.3, 754.6, 552.7, 492.4)
boxF = (1509.0, 749.4, 554.0, 493.6)

axA = add_axes_px(*boxA)
draw_panel(axA, boxA, A_x0, A_dots, (A_blue_lo, A_blue, A_blue_hi),
           (A_purple_lo, A_purple, A_purple_hi), A_total, XL_AC, (-0.030, 0.784),
           [0, 0.2, 0.4, 0.6], ['0.0', '0.2', '0.4', '0.6'])

axC = add_axes_px(*boxC)
draw_panel(axC, boxC, C_x0, C_dots, (C_blue_lo, C_blue, C_blue_hi),
           (C_purple_lo, C_purple, C_purple_hi), C_total, XL_AC, (-0.092, 2.452),
           [0, 0.5, 1.0, 1.5, 2.0], ['0.0', '0.5', '1.0', '1.5', '2.0'])

axE = add_axes_px(*boxE)
draw_panel(axE, boxE, E_x0, E_dots, (E_blue_lo, E_blue, E_blue_hi),
           (E_purple_lo, E_purple, E_purple_hi), E_total, XL_E, (-0.0097, 0.2532),
           [0, 0.05, 0.10, 0.15, 0.20, 0.25], ['0.00', '0.05', '0.10', '0.15', '0.20', '0.25'],
           total_band=(E_total_lo, E_total_hi), extra=(E_extra_x, E_extra_y))

axB = add_axes_px(*boxB)
draw_panel(axB, boxB, B_x0, B_dots, (B_blue_lo, B_blue, B_blue_hi),
           (B_purple_lo, B_purple, B_purple_hi), B_total, XL_BDF, (-0.061, 1.592),
           [0, 0.5, 1.0, 1.5], ['0.0', '0.5', '1.0', '1.5'], extra=(B_extra_x, B_extra_y))

axD = add_axes_px(*boxD)
draw_panel(axD, boxD, D_x0, D_dots, (D_blue_lo, D_blue, D_blue_hi),
           (D_purple_lo, D_purple, D_purple_hi), D_total, XL_BDF, (-0.020, 0.519),
           [0, 0.1, 0.2, 0.3, 0.4, 0.5], ['0.0', '0.1', '0.2', '0.3', '0.4', '0.5'],
           extra=(D_extra_x, D_extra_y))

axF = add_axes_px(*boxF)
draw_panel(axF, boxF, F_x0, F_dots, (F_blue_lo, F_blue, F_blue_hi),
           (F_purple_lo, F_purple, F_purple_hi), F_total, XL_BDF, (-0.0057, 0.1475),
           [0, 0.02, 0.04, 0.06, 0.08, 0.10, 0.12, 0.14],
           ['0.00', '0.02', '0.04', '0.06', '0.08', '0.10', '0.12', '0.14'],
           total_band=(F_total_lo, F_total_hi), extra=(F_extra_x, F_extra_y),
           gray=(F_gray_x, F_gray_lo, F_gray_hi))

# titles and panel letters
text_px(1075, 42.6, 'DC Demagnetization', family=MYRIAD, fontsize=24.5, ha='center', va='center')
text_px(1072.6, 717, 'IRM acquisition', family=MYRIAD, fontsize=24.5, ha='center', va='center')
for lab, x, y in [('A', 22, 103.6), ('C', 731, 103.6), ('E', 1428, 103.6),
                  ('B', 15.5, 774), ('D', 745, 783.8), ('F', 1428, 775.3)]:
    text_px(x, y, lab, family=MYRIAD, fontsize=26, ha='center', va='center')

# sample names and coercivities
for s, x, y, ha, fam, fs in [
        ('IT9e1a', 133, 125.5, 'left', MYRIAD, 23), ('56.8 mT', 642, 124.3, 'right', MYRIAD, 20.5),
        ('20.0 mT', 306, 439.4, 'left', MYRIAD, 20.5),
        ('IT14i1a', 839, 125, 'left', MYRIAD, 23), ('57.6 mT', 1350, 124.6, 'right', MYRIAD, 20.5),
        ('25.0 mT', 1035.7, 416, 'left', MYRIAD, 20.5),
        ('IT15i1a', 1536.6, 122.6, 'left', HELV, 23), ('14.3 mT', 2012.5, 119.6, 'right', HELV, 22),
        ('4.1 mT', 1642, 404.6, 'left', HELV, 22),
        ('IT9e1a', 125.9, 794.7, 'left', MYRIAD, 23), ('63.0 mT', 633, 789.7, 'right', MYRIAD, 20.5),
        ('33.5 mT', 322, 1153, 'left', MYRIAD, 20.5),
        ('IT14i1a', 852.7, 804.6, 'left', MYRIAD, 23), ('65.6 mT', 1359.8, 802.5, 'right', MYRIAD, 20.5),
        ('31.2 mT', 1051.8, 1178.6, 'left', MYRIAD, 20.5),
        ('IT15i1a', 1537.4, 797.5, 'left', HELV, 23), ('17.1 mT', 2009.6, 795, 'right', HELV, 22),
        ('10.6 mT', 1629.3, 1150.6, 'left', HELV, 22)]:
    text_px(x, y, s, family=fam, fontsize=fs, ha=ha, va='center')

fig.savefig('out.png', dpi=100)
